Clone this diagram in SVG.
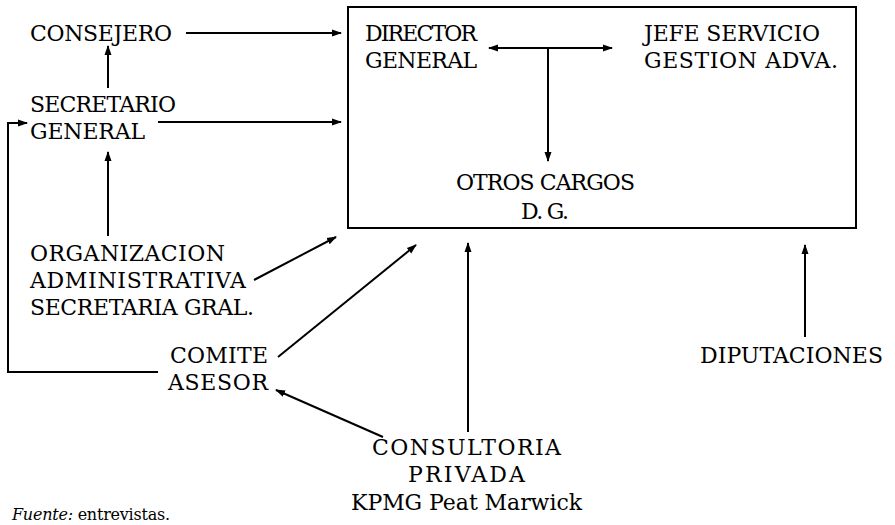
<svg xmlns="http://www.w3.org/2000/svg" width="895" height="525" viewBox="0 0 895 525">
<style>
text{font-family:"DejaVu Serif","Liberation Serif",serif;font-size:22px;fill:#000}
.c line,.c polyline{stroke:#000;stroke-width:2;fill:none}
.box{fill:none;stroke:#000;stroke-width:2}
.src{font-size:16px}
</style>
<defs>
<marker id="ah" viewBox="0 0 10 10" refX="9" refY="5" markerWidth="10" markerHeight="10" markerUnits="userSpaceOnUse" orient="auto-start-reverse">
<path d="M0,1.5 L10,5 L0,8.5 z" fill="#000"/>
</marker>
</defs>
<g id="box"><rect class="box" x="348" y="7" width="508" height="221"/></g>
<g class="c" id="connectors">
<line x1="186" y1="33" x2="341" y2="33" marker-end="url(#ah)"/>
<line x1="108" y1="88" x2="108" y2="46" marker-end="url(#ah)"/>
<line x1="158" y1="122" x2="341" y2="122" marker-end="url(#ah)"/>
<polyline points="158,372 8,372 8,123 27,123" marker-end="url(#ah)"/>
<line x1="108" y1="236" x2="108" y2="152" marker-end="url(#ah)"/>
<line x1="254" y1="280" x2="336" y2="237" marker-end="url(#ah)"/>
<line x1="278" y1="357" x2="416" y2="245" marker-end="url(#ah)"/>
<line x1="383" y1="437" x2="276" y2="390" marker-end="url(#ah)"/>
<line x1="468" y1="432" x2="468" y2="243" marker-end="url(#ah)"/>
<line x1="805" y1="337" x2="805" y2="245" marker-end="url(#ah)"/>
<line x1="489" y1="48" x2="612" y2="48" marker-start="url(#ah)" marker-end="url(#ah)"/>
<line x1="548" y1="48" x2="548" y2="161" marker-end="url(#ah)"/>
</g>
<g id="consejero"><text x="30" y="41" textLength="142">CONSEJERO</text></g>
<g id="secretario"><text x="30" y="112" textLength="146">SECRETARIO</text><text x="30" y="139" textLength="115">GENERAL</text></g>
<g id="director"><text x="365" y="41" textLength="112">DIRECTOR</text><text x="365" y="68" textLength="112">GENERAL</text></g>
<g id="jefe"><text x="644" y="41" textLength="176">JEFE SERVICIO</text><text x="644" y="68" textLength="194">GESTION ADVA.</text></g>
<g id="otros"><text x="456" y="190" textLength="179">OTROS CARGOS</text><text x="521" y="219" textLength="48">D. G.</text></g>
<g id="organizacion"><text x="30" y="261" textLength="195">ORGANIZACION</text><text x="30" y="288" textLength="216">ADMINISTRATIVA</text><text x="30" y="315" textLength="224">SECRETARIA GRAL.</text></g>
<g id="comite"><text x="170" y="363" textLength="98">COMITE</text><text x="168" y="390" textLength="100">ASESOR</text></g>
<g id="diputaciones"><text x="700" y="363" textLength="183">DIPUTACIONES</text></g>
<g id="consultoria"><text x="372" y="455" textLength="189">CONSULTORIA</text><text x="408" y="482" textLength="117">PRIVADA</text><text x="351" y="510" textLength="231">KPMG Peat Marwick</text></g>
<g id="fuente"><text class="src" x="12" y="520" textLength="158"><tspan font-style="italic">Fuente:</tspan> entrevistas.</text></g>
</svg>
